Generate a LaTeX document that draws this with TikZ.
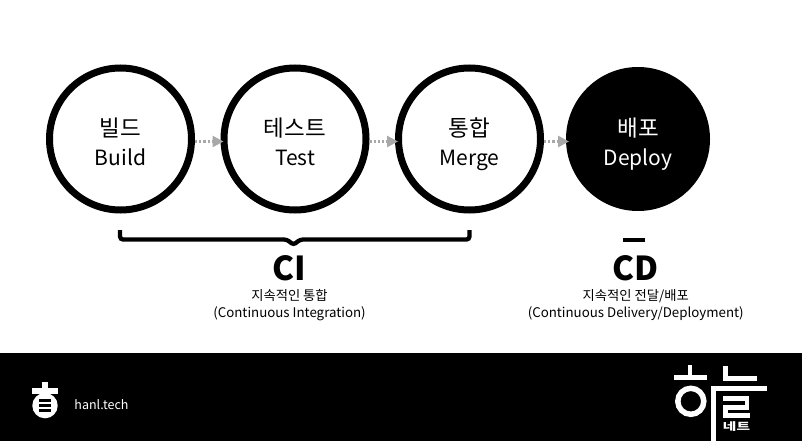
\documentclass[tikz,border=0pt]{standalone}
\usepackage{fontspec}
\setmainfont{Noto Sans CJK KR}
\usepackage{xcolor}
\usepackage{graphicx}
\usepackage{tikz}
\usetikzlibrary{arrows.meta,positioning}

\definecolor{arrowgray}{gray}{0.66}
\newcommand{\stagelabel}[2]{\rule{0pt}{31.7pt}#1\\{\fontsize{21}{29}\selectfont #2}\rule[-8.7pt]{0pt}{8.7pt}}

\begin{document}
\begin{tikzpicture}[
  x=1pt,y=-1pt,
  stage/.style={draw,circle,line width=7pt,minimum size=142pt,inner sep=0pt,align=center,font=\fontsize{22.5}{29}\selectfont},
  stagedark/.style={stage,fill=black,text=white,minimum size=137pt},
  arrow/.style={-{Triangle[length=11pt,width=11pt]},arrowgray,line width=2.6pt,dash pattern=on 2.2pt off 2pt,shorten >=-3pt},
  title/.style={inner sep=0pt,font=\fontsize{33}{33}\bfseries\selectfont},
  note/.style={inner sep=0pt,align=center,font=\fontsize{13.3}{17.5}\selectfont},
  thickline/.style={line width=4.3pt},
  logoline/.style={white,line width=4.6pt}
]
\useasboundingbox (0,0) rectangle (802,441);

\node[stage] (build) at (120.5,139) {\stagelabel{빌드}{Build}};
\node[stage, right=25.5pt of build] (test) {\stagelabel{테스트}{Test}};
\node[stage, right=25.5pt of test] (merge) {\stagelabel{통합}{Merge}};
\node[stagedark, right=22pt of merge] (deploy) {\stagelabel{배포}{Deploy}};

\draw[arrow] ([yshift=-2.5pt]build.east) -- ([yshift=-2.5pt]test.west);
\draw[arrow] ([yshift=-2.5pt]test.east) -- ([yshift=-2.5pt]merge.west);
\draw[arrow] ([yshift=-2.5pt]merge.east) -- ([yshift=-2.5pt]deploy.west);

% brace under the first three
\draw[thickline,rounded corners=3pt] (120,230) -- (120,239.5) -- (287,239.5) -- (293.5,245) -- (300,239.5) -- (469.5,239.5) -- (469.5,230);
\draw[thickline] (623,240) -- (645,240);

\node[title] (ci) at (289.5,268) {CI};
\node[note, below=8pt of ci] (cinote) {지속적인 통합\\(Continuous Integration)};
\node[title] (cd) at (635.7,268) {CD};
\node[note, below=8pt of cd] (cdnote) {지속적인 전달/배포\\(Continuous Delivery/Deployment)};

% footer
\fill (0,353) rectangle (802,441);

\fill[white] (42.3,381.7) rectangle (47.7,390);
\fill[white] (32.3,388.3) rectangle (57.7,394.3);
\fill[white] (45,405.6) circle (12.7);
\foreach \y in {400.3,405.3,410.3} {
  \fill[black] (39,\y-1.4) rectangle (51,\y+1.4);
}
\node[inner sep=0pt,text=white,font=\fontsize{12.5}{12.5}\selectfont] (site) at (101.5,405) {hanl.tech};

\draw[logoline] (690,365) -- (690,377);
\draw[logoline] (674,377.5) -- (706.7,377.5);
\draw[logoline,line width=5.5pt] (690.8,401.3) circle (13);
\draw[logoline] (713.3,386) -- (713.3,441);
\draw[logoline] (713,388.3) -- (767,388.3);
\draw[logoline] (725.3,366) -- (725.3,378.3) -- (757,378.3);
\draw[logoline] (723,398.3) -- (747,398.3) -- (747,407.2) -- (725.3,407.2) -- (725.3,415.3) -- (749.5,415.3);
\node[inner sep=0pt,text=white,font=\fontsize{10.5}{10.5}\bfseries\selectfont] (logotext) at (736.5,426.7) {\scalebox{1.4}[1]{네트}};
\end{tikzpicture}
\end{document}
